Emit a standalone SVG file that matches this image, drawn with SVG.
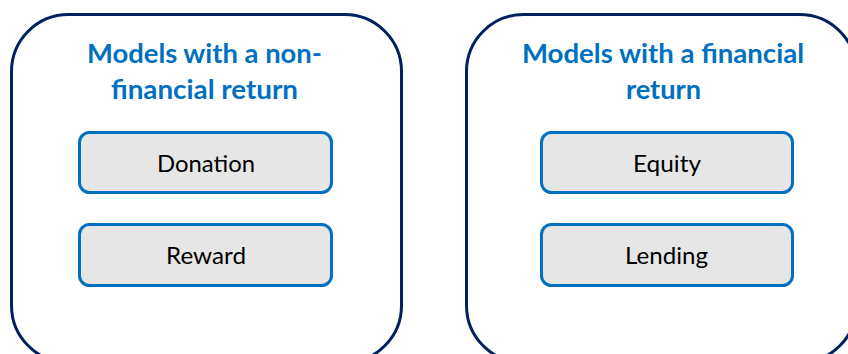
<svg xmlns="http://www.w3.org/2000/svg" width="848" height="354" viewBox="0 0 848 354">
  <style>
    .panel { fill: #ffffff; stroke: #002060; stroke-width: 3; }
    .item { fill: #e6e6e6; stroke: #0070c0; stroke-width: 3; }
    .title { font-family: Lato, "Open Sans", sans-serif; font-weight: bold; font-size: 26px; fill: #0070c0; }
    .label { font-family: Lato, "Open Sans", sans-serif; font-size: 23px; fill: #000000; }
  </style>
  <rect width="848" height="354" fill="#ffffff"/>

  <!-- Left panel: non-financial return models -->
  <g id="panel-non-financial">
    <rect class="panel" x="11.5" y="14.5" width="390" height="348" rx="57" ry="57"/>
    <text class="title" x="204.5" y="63" text-anchor="middle" textLength="235" lengthAdjust="spacingAndGlyphs">Models with a non-</text>
    <text class="title" x="204.5" y="99" text-anchor="middle" textLength="187" lengthAdjust="spacingAndGlyphs">financial return</text>
  </g>
  <g id="node-donation">
    <rect class="item" x="79.5" y="132.5" width="252" height="60" rx="10" ry="10"/>
    <text class="label" x="206" y="172" text-anchor="middle" textLength="98" lengthAdjust="spacingAndGlyphs">Donation</text>
  </g>
  <g id="node-reward">
    <rect class="item" x="79.5" y="224.5" width="252" height="61" rx="10" ry="10"/>
    <text class="label" x="206" y="264" text-anchor="middle" textLength="80" lengthAdjust="spacingAndGlyphs">Reward</text>
  </g>

  <!-- Right panel: financial return models -->
  <g id="panel-financial">
    <rect class="panel" x="466.5" y="14.5" width="390" height="348" rx="57" ry="57"/>
    <text class="title" x="663" y="63" text-anchor="middle" textLength="282" lengthAdjust="spacingAndGlyphs">Models with a financial</text>
    <text class="title" x="663.5" y="99" text-anchor="middle" textLength="75" lengthAdjust="spacingAndGlyphs">return</text>
  </g>
  <g id="node-equity">
    <rect class="item" x="541.5" y="132.5" width="251" height="60" rx="10" ry="10"/>
    <text class="label" x="667" y="172" text-anchor="middle" textLength="68" lengthAdjust="spacingAndGlyphs">Equity</text>
  </g>
  <g id="node-lending">
    <rect class="item" x="541.5" y="224.5" width="251" height="61" rx="10" ry="10"/>
    <text class="label" x="666.5" y="264" text-anchor="middle" textLength="83" lengthAdjust="spacingAndGlyphs">Lending</text>
  </g>

  <g id="connectors"/>
</svg>
